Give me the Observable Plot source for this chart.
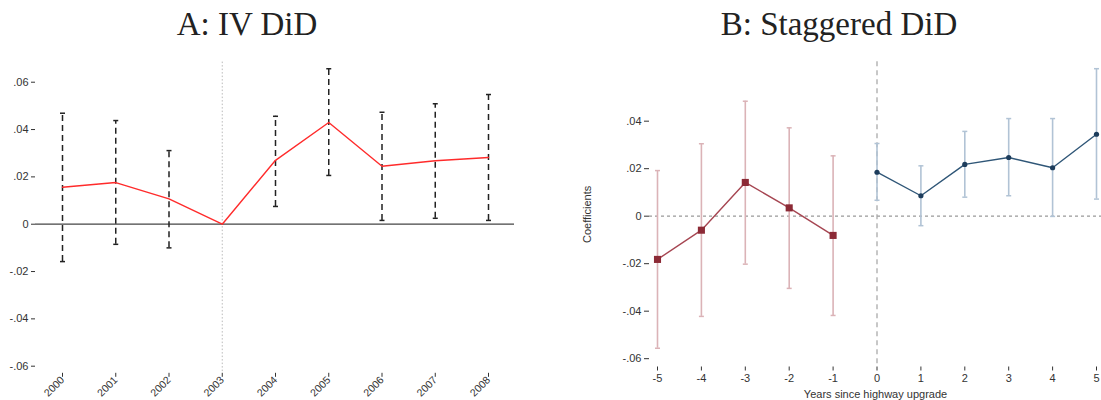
<!DOCTYPE html>
<html>
<head>
<meta charset="utf-8">
<script src="https://cdn.jsdelivr.net/npm/d3@7"></script>
<script src="https://cdn.jsdelivr.net/npm/@observablehq/plot@0.6"></script>
<style>
  html, body { margin: 0; padding: 0; background: #fff; }
  #wrap { position: relative; width: 1101px; height: 400px; overflow: hidden; }
  .title { position: absolute; top: 8px; text-align: center; font-family: "Liberation Serif", "DejaVu Serif", serif; font-size: 33px; line-height: 1; color: #222; white-space: nowrap; }
  .panel { position: absolute; top: 0; }
</style>
</head>
<body>
<div id="wrap">
  <div class="title" style="left:47px;width:400px;">A: IV DiD</div>
  <div class="title" style="left:639px;width:400px;">B: Staggered DiD</div>
  <div id="pa" class="panel" style="left:0px;"></div>
  <div id="pb" class="panel" style="left:550px;"></div>
</div>
<script>
// ---- Panel A: IV DiD ----
const yearsA = [2000, 2001, 2002, 2003, 2004, 2005, 2006, 2007, 2008];
const coefA  = [0.0156, 0.0176, 0.0107, 0, 0.0270, 0.0430, 0.0245, 0.0268, 0.0282];
const lowA   = [-0.0158, -0.0085, -0.0100, null, 0.0075, 0.0206, 0.0016, 0.0025, 0.0016];
const highA  = [0.0469, 0.0438, 0.0311, null, 0.0456, 0.0657, 0.0473, 0.0509, 0.0548];
const yTicksA = [-0.06, -0.04, -0.02, 0, 0.02, 0.04, 0.06];
const refYearA = [2003];

// ---- Panel B: Staggered DiD ----
const preX    = [-5, -4, -3, -2, -1];
const preCoef = [-0.0182, -0.0059, 0.0142, 0.0035, -0.0081];
const preLow  = [-0.0556, -0.0422, -0.0202, -0.0304, -0.0418];
const preHigh = [0.0192, 0.0305, 0.0484, 0.0372, 0.0254];
const postX    = [0, 1, 2, 3, 4, 5];
const postCoef = [0.0185, 0.0086, 0.0218, 0.0247, 0.0204, 0.0345];
const postLow  = [0.0067, -0.0040, 0.0080, 0.0086, -0.0001, 0.0072];
const postHigh = [0.0306, 0.0212, 0.0357, 0.0411, 0.0411, 0.0621];
const xTicksB = [-5, -4, -3, -2, -1, 0, 1, 2, 3, 4, 5];
const yTicksB = [-0.06, -0.04, -0.02, 0, 0.02, 0.04];
const refXB = [0];

const dataA = yearsA.map((year, i) => ({year, coef: coefA[i], lo: lowA[i], hi: highA[i]}));
const ciA = dataA.filter(d => d.lo != null);
const pre = preX.map((x, i) => ({x, coef: preCoef[i], lo: preLow[i], hi: preHigh[i]}));
const post = postX.map((x, i) => ({x, coef: postCoef[i], lo: postLow[i], hi: postHigh[i]}));

const fmt = d => d === 0 ? "0" : (d < 0 ? "-" : "") + d3.format(".2f")(Math.abs(d)).replace(/^0/, "");
const cap = { draw(ctx, size) { const r = Math.sqrt(size / Math.PI); ctx.moveTo(-r, 0); ctx.lineTo(r, 0); } };
const style = { fontFamily: "'Liberation Sans', Arial, sans-serif", fontSize: "11px", color: "#333", background: "transparent", overflow: "visible" };

const plotA = Plot.plot({
  width: 550, height: 400,
  marginLeft: 35, marginRight: 36, marginTop: 61.6, marginBottom: 27.2,
  style,
  x: { domain: [2000, 2008], insetLeft: 27, insetRight: 26 },
  y: { domain: [-0.063, 0.0685] },
  marks: [
    Plot.ruleX(refYearA, { stroke: "#bbb", strokeDasharray: "1.5,2", strokeWidth: 1 }),
    Plot.ruleY([0], { stroke: "#444", strokeWidth: 1.3 }),
    Plot.ruleX(ciA, { x: "year", y1: "lo", y2: "hi", stroke: "#222", strokeWidth: 1.5, strokeDasharray: "6,4" }),
    Plot.dot(ciA, { x: "year", y: "hi", symbol: cap, r: 2.5, stroke: "#222", fill: "none", strokeWidth: 1.5 }),
    Plot.dot(ciA, { x: "year", y: "lo", symbol: cap, r: 2.5, stroke: "#222", fill: "none", strokeWidth: 1.5 }),
    Plot.line(dataA, { x: "year", y: "coef", stroke: "#ff2b2b", strokeWidth: 1.4 }),
    Plot.axisY({ ticks: yTicksA, tickFormat: fmt, tickSize: 4, tickPadding: 3, label: null }),
    Plot.axisX({ ticks: yearsA, tickFormat: d => String(d), tickRotate: -45, tickSize: 4, tickPadding: 1, fontSize: 10.5, label: null })
  ]
});
document.getElementById("pa").appendChild(plotA);

const preCI = "#dbb3b7", preLine = "#a64652", preDot = "#8c2a36";
const postCI = "#b1c3d5", postLine = "#2f5677", postDot = "#1d3d5c";

const plotB = Plot.plot({
  width: 551, height: 400,
  marginLeft: 99, marginRight: 0, marginTop: 61.3, marginBottom: 33.5,
  style,
  x: { domain: [-5, 5], insetLeft: 8, insetRight: 5 },
  y: { domain: [-0.0635, 0.065] },
  marks: [
    Plot.ruleY([0], { stroke: "#999", strokeDasharray: "3,3", strokeWidth: 1.2 }),
    Plot.ruleX(refXB, { stroke: "#aaa", strokeDasharray: "5,4", strokeWidth: 1.3 }),
    Plot.ruleX(pre, { x: "x", y1: "lo", y2: "hi", stroke: preCI, strokeWidth: 1.6 }),
    Plot.dot(pre, { x: "x", y: "hi", symbol: cap, r: 2.5, stroke: preCI, fill: "none", strokeWidth: 1.5 }),
    Plot.dot(pre, { x: "x", y: "lo", symbol: cap, r: 2.5, stroke: preCI, fill: "none", strokeWidth: 1.5 }),
    Plot.line(pre, { x: "x", y: "coef", stroke: preLine, strokeWidth: 1.4 }),
    Plot.dot(pre, { x: "x", y: "coef", symbol: "square", r: 4, fill: preDot, stroke: "none" }),
    Plot.ruleX(post, { x: "x", y1: "lo", y2: "hi", stroke: postCI, strokeWidth: 1.6 }),
    Plot.dot(post, { x: "x", y: "hi", symbol: cap, r: 2.5, stroke: postCI, fill: "none", strokeWidth: 1.5 }),
    Plot.dot(post, { x: "x", y: "lo", symbol: cap, r: 2.5, stroke: postCI, fill: "none", strokeWidth: 1.5 }),
    Plot.line(post, { x: "x", y: "coef", stroke: postLine, strokeWidth: 1.4 }),
    Plot.dot(post, { x: "x", y: "coef", r: 2.6, fill: postDot, stroke: "none" }),
    Plot.axisY({ ticks: yTicksB, tickFormat: fmt, tickSize: 5, tickPadding: 3, label: "Coefficients", labelAnchor: "center", labelArrow: "none", labelOffset: 66 }),
    Plot.axisX({ ticks: xTicksB, tickFormat: d => String(d), tickSize: 4, tickPadding: 3, label: "Years since highway upgrade", labelAnchor: "center", labelArrow: "none", labelOffset: 31 })
  ]
});
document.getElementById("pb").appendChild(plotB);
</script>
</body>
</html>
